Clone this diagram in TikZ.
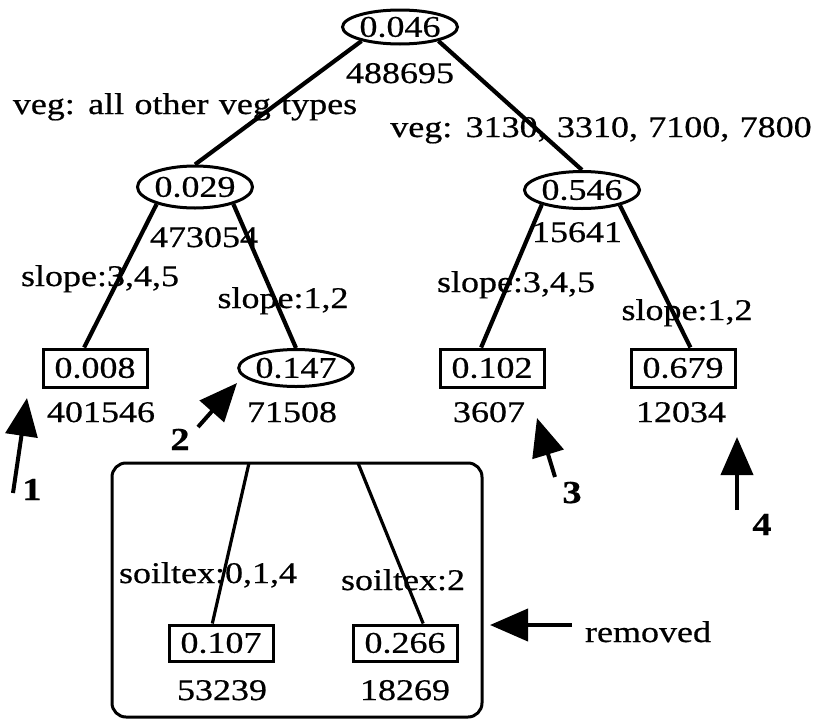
\documentclass[tikz,border=0pt]{standalone}
\usepackage{fontspec}
\setmainfont{Liberation Serif}[FakeStretch=1.2, FakeBold=0.6, WordSpace=1.15]
\usetikzlibrary{shapes.geometric,arrows.meta}
\begin{document}
\begin{tikzpicture}[x=1pt,y=-1pt,
  font=\fontsize{30}{32}\selectfont,
  oval/.style={ellipse, draw, line width=3pt, inner sep=0pt,
    minimum width=115pt, minimum height=37pt},
  leaf/.style={rectangle, draw, line width=3pt, inner sep=0pt,
    minimum width=104pt, minimum height=38pt},
  txt/.style={inner sep=0pt, anchor=base},
  tag/.style={inner sep=0pt, anchor=base, font=\fontsize{32}{34}\selectfont\bfseries},
  branch/.style={line width=4.2pt},
  thin branch/.style={line width=3.2pt},
  pointer/.style={line width=4pt, -{Triangle[length=38pt,width=32pt]}}]
\useasboundingbox (0,0) rectangle (814,720);

% tree nodes
\node[oval, minimum height=34pt] (root) at (400,27) {0.046};
\node[txt] (c0) at (400,83) {488695};
\node[oval, minimum height=42pt] (n029) at (195,187) {0.029};
\node[txt] (c029) at (204,247) {473054};
\node[oval] (n546) at (582,190) {0.546};
\node[txt] (c546) at (577,242) {15641};
\node[leaf] (n008) at (95,368) {0.008};
\node[txt] (c008) at (101,422) {401546};
\node[oval, minimum width=112pt] (n147) at (296,368) {0.147};
\node[txt] (c147) at (292,422) {71508};
\node[leaf] (n102) at (492,368) {0.102};
\node[txt] (c102) at (489,422) {3607};
\node[leaf] (n679) at (683,368) {0.679};
\node[txt] (c679) at (681,422) {12034};

% pruned subtree
\node[draw, line width=3pt, rounded corners=14pt, minimum width=370pt,
  minimum height=254pt, inner sep=0pt] (grp) at (297,590) {};
\coordinate (gl) at (249,463);
\coordinate (gr) at (358,463);
\node[leaf, minimum height=36pt] (n107) at (221,643) {0.107};
\node[txt] (c107) at (222,700) {53239};
\node[leaf, minimum height=36pt] (n266) at (405,643) {0.266};
\node[txt] (c266) at (405,700) {18269};

% branches
\draw[branch] (root.200) -- (n029.north);
\draw[branch] (root.340) -- (n546.north);
\draw[branch] (n029.204) -- (n008.118);
\draw[branch] (n029.336) -- (n147.north);
\draw[branch] (n546.200) -- (n102.118);
\draw[branch] (n546.338) -- (n679.70);
\draw[thin branch] (gl) -- (n107.114);
\draw[thin branch] (gr) -- (n266.47);

% split labels
\node[txt] (l1) at (185,114) {veg: all other veg types};
\node[txt] (l2) at (601,137) {veg: 3130, 3310, 7100, 7800};
\node[txt] (l3) at (100,286) {slope:3,4,5};
\node[txt] (l4) at (283,308) {slope:1,2};
\node[txt] (l5) at (516,292) {slope:3,4,5};
\node[txt] (l6) at (687,320) {slope:1,2};
\node[txt] (l7) at (208,583) {soiltex:0,1,4};
\node[txt] (l8) at (403,590) {soiltex:2};

% numbered pointers
\coordinate (p1s) at (13,493); \coordinate (p1e) at (27,398);
\coordinate (p2s) at (198,427); \coordinate (p2e) at (237,383);
\coordinate (p3s) at (555,477); \coordinate (p3e) at (537,418);
\coordinate (p4s) at (737,510); \coordinate (p4e) at (737,437);
\draw[pointer] (p1s) -- (p1e);
\draw[pointer] (p2s) -- (p2e);
\draw[pointer] (p3s) -- (p3e);
\draw[pointer] (p4s) -- (p4e);
\node[tag] (t1) at (32,500) {1};
\node[tag] (t2) at (180,450) {2};
\node[tag] (t3) at (572,503) {3};
\node[tag] (t4) at (762,535) {4};

% removed marker
\node[txt] (rm) at (648,642) {removed};
\coordinate (rms) at (572,625);
\coordinate (rme) at (490,625);
\draw[pointer] (rms) -- (rme);
\end{tikzpicture}
\end{document}
